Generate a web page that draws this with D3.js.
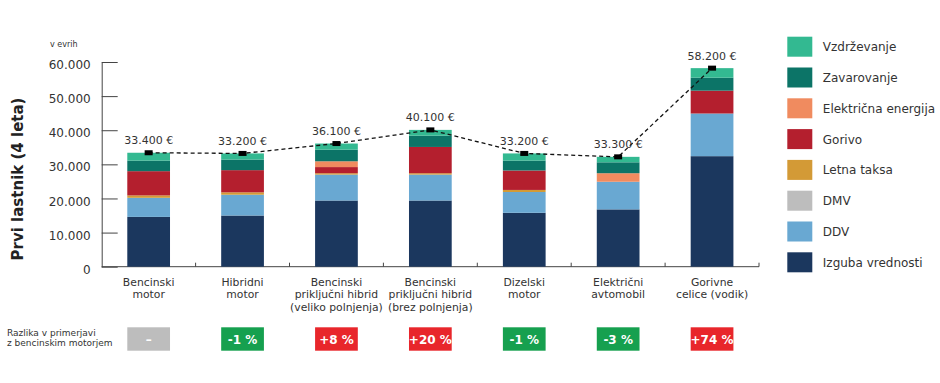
<!DOCTYPE html>
<html><head><meta charset="utf-8">
<script src="https://cdn.jsdelivr.net/npm/d3@7"></script>
<style>
html,body{margin:0;padding:0;background:#fff;}
svg{display:block;font-family:"DejaVu Sans",sans-serif;}
</style></head>
<body><svg id="c" width="940" height="383"></svg>
<script>
const categories = [
  ["Bencinski","motor"],
  ["Hibridni","motor"],
  ["Bencinski","priključni hibrid","(veliko polnjenja)"],
  ["Bencinski","priključni hibrid","(brez polnjenja)"],
  ["Dizelski","motor"],
  ["Električni","avtomobil"],
  ["Gorivne","celice (vodik)"]
];
const seriesNames = ["Izguba vrednosti","DDV","DMV","Letna taksa","Gorivo","Električna energija","Zavarovanje","Vzdrževanje"];
const seriesColors = ["#1b375e","#69a8d2","#bdbdbd","#d39a36","#b41f2e","#f08b5f","#0c7467","#33b991"];
const izguba   = [14600,15000,19400,19400,15800,16800,32400];
const ddv      = [5600, 6100, 7600, 7600, 6100, 8100, 12500];
const dmv      = [0,0,0,0,0,0,0];
const letna    = [700, 700, 400, 400, 600, 0, 0];
const gorivo   = [7100, 6500, 1800, 7700, 5700, 0, 6700];
const elektrika= [0, 0, 1700, 0, 0, 2500, 0];
const zavar    = [3100, 3100, 3400, 3300, 2900, 3200, 3800];
const vzdrz    = [2300, 1800, 1800, 1700, 2100, 1600, 2800];
const totals   = [33400,33200,36100,40100,33200,33300,58200];
const diffs    = ["–","-1 %","+8 %","+20 %","-1 %","-3 %","+74 %"];
const yTicks   = [0,10000,20000,30000,40000,50000,60000];
const legendOrder = ["Vzdrževanje","Zavarovanje","Električna energija","Gorivo","Letna taksa","DMV","DDV","Izguba vrednosti"];

const seriesVals = [izguba,ddv,dmv,letna,gorivo,elektrika,zavar,vzdrz];
const rows = categories.map((c,i)=>{const o={i}; seriesNames.forEach((s,j)=>o[s]=seriesVals[j][i]); return o;});

const svg = d3.select("#c");
const loc = d3.formatLocale({decimal:",",thousands:".",grouping:[3],currency:["","€"]});
const fmt = loc.format(",");
const txt = "#333";

const x = d3.scaleBand().domain(d3.range(categories.length)).range([101.7,759]).paddingInner(0.545).paddingOuter(0.2725);
const y = d3.scaleLinear().domain([0,60000]).range([266.7,62]);
const color = d3.scaleOrdinal().domain(seriesNames).range(seriesColors);

// y axis
const ya = svg.append("g").attr("transform","translate(101.7,0)")
  .call(d3.axisLeft(y).tickValues(yTicks).tickFormat(fmt).tickSizeInner(-16).tickSizeOuter(0).tickPadding(11));
ya.select(".domain").attr("stroke","#444");
ya.selectAll(".tick line").attr("stroke","#444");
ya.selectAll(".tick text").attr("font-size","12px").attr("fill",txt).attr("dy","0.55em").attr("font-family","DejaVu Sans");

// bottom axis line and boundary ticks
const x0 = x.range()[0], step = x.step();
svg.append("line").attr("x1",x0).attr("x2",x.range()[1]).attr("y1",y(0)).attr("y2",y(0)).attr("stroke","#444");
svg.selectAll(".bt").data(d3.range(1,categories.length+1)).join("line")
  .attr("x1",d=>x0+d*step).attr("x2",d=>x0+d*step).attr("y1",y(0)).attr("y2",y(0)-4).attr("stroke","#444");

// stacked bars
const stack = d3.stack().keys(seriesNames)(rows);
svg.append("g").selectAll("g").data(stack).join("g").attr("fill",d=>color(d.key))
  .selectAll("rect").data(d=>d).join("rect")
  .attr("x",d=>x(d.data.i)).attr("width",x.bandwidth())
  .attr("y",d=>y(d[1])).attr("height",d=>y(d[0])-y(d[1]));

// dashed line & markers
const sums = rows.map(r=>d3.sum(seriesNames,s=>r[s]));
const cx = i=>x(i)+x.bandwidth()/2;
svg.append("path").datum(sums).attr("fill","none").attr("stroke","#111").attr("stroke-width",1.3)
  .attr("stroke-dasharray","4,3")
  .attr("d",d3.line().x((d,i)=>cx(i)).y(d=>y(d)));
svg.selectAll(".mk").data(sums).join("rect")
  .attr("x",(d,i)=>cx(i)-4).attr("y",d=>y(d)-2.5).attr("width",8).attr("height",5).attr("fill","#000");

// total labels
svg.selectAll(".tl").data(totals).join("text")
  .attr("x",(d,i)=>cx(i)).attr("y",(d,i)=>y(sums[i])-8.5).attr("text-anchor","middle")
  .attr("font-size","11px").attr("fill",txt).text(d=>fmt(d)+" €");

// category labels
categories.forEach((lines,i)=>{
  lines.forEach((l,k)=>{
    svg.append("text").attr("x",cx(i)).attr("y",285.5+k*12.8).attr("text-anchor","middle")
      .attr("font-size","10.8px").attr("fill",txt).text(l);
  });
});

// y title
svg.append("text").attr("transform","translate(23,179) rotate(-90)").attr("text-anchor","middle")
  .attr("font-size","15px").attr("font-weight","bold").attr("fill","#222").text("Prvi lastnik (4 leta)");
svg.append("text").attr("x",50).attr("y",47).attr("font-size","8px").attr("fill",txt).text("v evrih");

// diff badges
svg.append("text").attr("x",7).attr("y",335.5).attr("font-size","9px").attr("fill",txt).text("Razlika v primerjavi");
svg.append("text").attr("x",7).attr("y",346).attr("font-size","9px").attr("fill",txt).text("z bencinskim motorjem");
const badgeColor = d=> d==="–" ? "#bdbdbd" : (d[0]==="+" ? "#e8262b" : "#16a04f");
svg.selectAll(".bd").data(diffs).join("rect")
  .attr("x",(d,i)=>x(i)).attr("y",327.3).attr("width",x.bandwidth()).attr("height",23.4).attr("fill",badgeColor);
svg.selectAll(".bdt").data(diffs).join("text")
  .attr("x",(d,i)=>cx(i)).attr("y",343.5).attr("text-anchor","middle").attr("font-size","12px")
  .attr("font-weight","bold").attr("fill","#fff").text(d=>d);

// legend
const lg = svg.append("g").selectAll("g").data(legendOrder).join("g")
  .attr("transform",(d,i)=>`translate(787.3,${36.7+i*30.8})`);
lg.append("rect").attr("width",25).attr("height",20).attr("fill",d=>color(d));
lg.append("text").attr("x",35.5).attr("y",14.5).attr("font-size","12px").attr("fill",txt).text(d=>d);
</script></body></html>
